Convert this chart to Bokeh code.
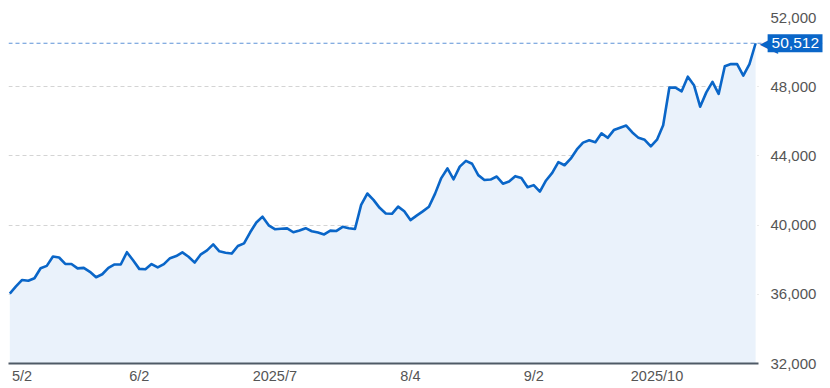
from bokeh.plotting import figure
from bokeh.models import (Range1d, FixedTicker, LinearAxis, Span, Label,
                          NumeralTickFormatter)
from bokeh.embed import file_html
from bokeh.resources import INLINE

# Daily closes, 2025-04-30 .. 2025-10-27 (trading days)
may = [36045, 36452, 36830, 36779, 36928, 37503, 37644, 38183, 38128, 37755,
       37753, 37498, 37529, 37298, 36985, 37160, 37531, 37724, 37722, 38432, 37965]
jun = [37470, 37446, 37747, 37554, 37741, 38088, 38211, 38421, 38173, 37834,
       38311, 38536, 38885, 38488, 38403, 38354, 38790, 38942, 39584, 40150, 40487]
jul = [39986, 39762, 39785, 39810, 39587, 39688, 39821, 39646, 39569, 39459,
       39678, 39663, 39901, 39819, 39774, 41171, 41826, 41456, 40998, 40674,
       40654, 41069]
aug = [40799, 40290, 40549, 40794, 41059, 41820, 42718, 43274, 42649, 43378,
       43714, 43546, 42888, 42610, 42633, 42807, 42394, 42520, 42829, 42718]
sep = [42188, 42310, 41938, 42580, 43018, 43643, 43459, 43837, 44372, 44768,
       44902, 44790, 45303, 45045, 45493, 45630, 45754, 45354, 45043, 44932]
octo = [44550, 44936, 45769, 47944, 47950, 47734, 48580, 48088, 46847, 47672,
        48277, 47582, 49185, 49316, 49307, 48641, 49299, 50512]

values = may + jun + jul + aug + sep + octo
idx = list(range(len(values)))

tick_pos = [2, 21, 43, 65, 85, 105]
tick_labels = ["5/2", "6/2", "2025/7", "8/4", "9/2", "2025/10"]
y_ticks = [32000, 36000, 40000, 44000, 48000, 52000]

LINE = "#0a66c8"
FILL = "#eaf2fb"
FONT = "Liberation Sans"

n_last = len(values) - 1
x0, x1 = -0.21, 131.85          # frame spans the value tag area too
x_plot_end = n_last + 0.45       # end of the grid / axis line
y0, y1 = 32000, 52000

p = figure(width=830, height=388, output_backend="svg", toolbar_location=None,
           x_range=Range1d(x0, x1), y_range=Range1d(y0, y1),
           min_border_left=8, min_border_right=8, min_border_top=17,
           min_border_bottom=25, y_axis_location=None)
p.outline_line_color = None
p.background_fill_color = "white"
p.border_fill_color = "white"

p.varea(x=idx, y1=[y0] * len(values), y2=values, fill_color=FILL)
p.line(idx, values, line_color=LINE, line_width=2.6, line_join="round")

p.xgrid.visible = False
p.ygrid.ticker = FixedTicker(ticks=y_ticks)
p.ygrid.grid_line_color = "#d4d4d4"
p.ygrid.grid_line_dash = "4 3"
p.ygrid.grid_line_width = 1
p.ygrid.cross_bounds = (x0, x_plot_end)

xa = p.xaxis[0]
xa.ticker = FixedTicker(ticks=tick_pos)
xa.major_label_overrides = {t: l for t, l in zip(tick_pos, tick_labels)}
xa.bounds = (x0, x_plot_end)
xa.major_tick_line_color = None
xa.major_tick_out = 0
xa.major_tick_in = 0
xa.minor_tick_line_color = None
xa.axis_line_color = "#4f5a66"
xa.axis_line_width = 2
xa.major_label_text_font = FONT
xa.major_label_text_font_size = "14.5px"
xa.major_label_text_color = "#555555"
xa.major_label_standoff = 4

ya = LinearAxis(ticker=FixedTicker(ticks=y_ticks),
                formatter=NumeralTickFormatter(format="0,0"))
ya.axis_line_color = None
ya.major_tick_line_color = None
ya.major_tick_out = 0
ya.major_tick_in = 0
ya.minor_tick_line_color = None
ya.major_label_text_font = FONT
ya.major_label_text_font_size = "15px"
ya.major_label_text_color = "#555555"
ya.major_label_standoff = -52
p.add_layout(ya, "right")

last = values[-1]
p.add_layout(Span(location=last, dimension="width", line_color="#5d93d8",
                  line_dash="4 3", line_width=1.2))

# value tag next to the last point
p.add_layout(Label(x=n_last, y=last, x_offset=4, text="\u25C0",
                   text_color=LINE, text_font="DejaVu Sans",
                   text_font_size="24px", text_baseline="middle", text_align="left"))
p.add_layout(Label(x=n_last, y=last, x_offset=12, text=f"{last:,}", text_color="white",
                   text_font=FONT, text_font_size="15.5px", text_baseline="middle",
                   text_align="left", background_fill_color=LINE,
                   padding=(4, 4)))

open("out.html", "w").write(file_html(p, INLINE))
